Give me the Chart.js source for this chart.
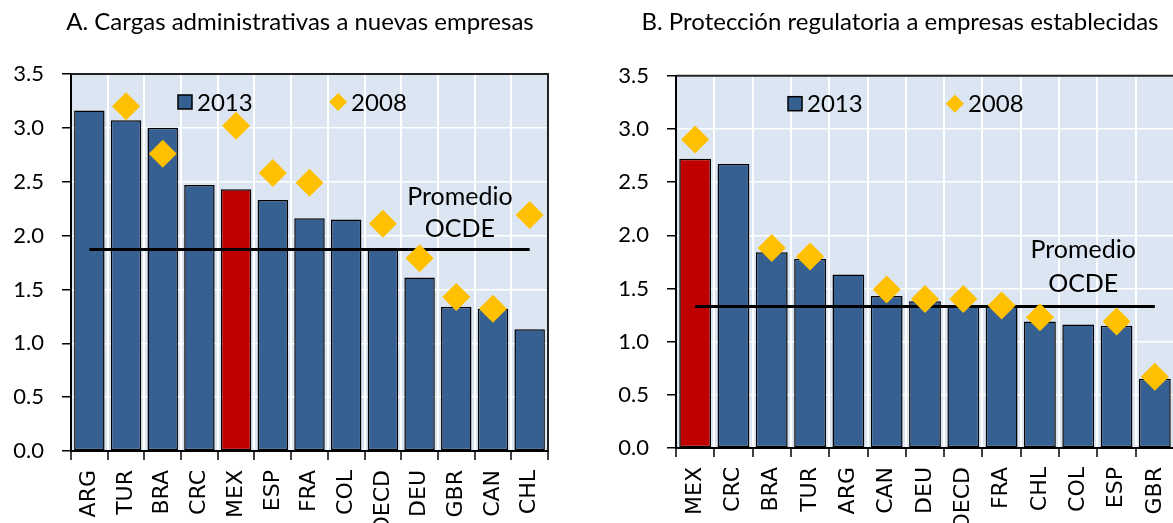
<!doctype html>
<html>
<head>
<meta charset="utf-8">
<script src="https://cdn.jsdelivr.net/npm/chart.js"></script>
<style>
  body { margin: 0; width: 1173px; height: 523px; overflow: hidden; background: #fff; position: relative; }
  .box { position: absolute; top: 0; width: 600px; height: 523px; }
</style>
</head>
<body>
<div class="box" style="left:0"><canvas id="chartA"></canvas></div>
<div class="box" style="left:600px"><canvas id="chartB"></canvas></div>
<script>
// A. Cargas administrativas a nuevas empresas
var catsA = ['ARG', 'TUR', 'BRA', 'CRC', 'MEX', 'ESP', 'FRA', 'COL', 'OECD', 'DEU', 'GBR', 'CAN', 'CHL'];
var y2013A = [3.16, 3.07, 3.00, 2.47, 2.43, 2.33, 2.16, 2.15, 1.87, 1.61, 1.34, 1.32, 1.13];
var y2008A = [null, 3.20, 2.76, null, 3.02, 2.58, 2.49, null, 2.11, 1.79, 1.43, 1.32, 2.19];
var avgA = [1.87, 1.87, 1.87, 1.87, 1.87, 1.87, 1.87, 1.87, 1.87, 1.87, 1.87, 1.87, 1.87];

// B. Protección regulatoria a empresas establecidas
var catsB = ['MEX', 'CRC', 'BRA', 'TUR', 'ARG', 'CAN', 'DEU', 'OECD', 'FRA', 'CHL', 'COL', 'ESP', 'GBR'];
var y2013B = [2.72, 2.67, 1.84, 1.78, 1.63, 1.43, 1.38, 1.33, 1.33, 1.19, 1.16, 1.15, 0.65];
var y2008B = [2.90, null, 1.88, 1.80, null, 1.49, 1.40, 1.40, 1.34, 1.23, null, 1.19, 0.67];
var avgB = [1.33, 1.33, 1.33, 1.33, 1.33, 1.33, 1.33, 1.33, 1.33, 1.33, 1.33, 1.33, 1.33];

var yTicks = ['0.0', '0.5', '1.0', '1.5', '2.0', '2.5', '3.0', '3.5'];

var BLUE = '#376092', RED = '#C00000', GOLD = '#FFC000';
var sans = 'Lato, "Open Sans", sans-serif';

// plot background + top/right frame
var plotFrame = {
  id: 'plotFrame',
  beforeDraw: function (chart) {
    var a = chart.chartArea, c = chart.ctx;
    c.save();
    c.fillStyle = '#DCE6F2';
    c.fillRect(a.left, a.top, a.right - a.left, a.bottom - a.top);
    c.restore();
  },
  afterDraw: function (chart) {
    var a = chart.chartArea, c = chart.ctx;
    c.save();
    c.strokeStyle = '#222';
    c.lineWidth = 2;
    c.beginPath();
    c.moveTo(a.left, a.top);
    c.lineTo(a.right, a.top);
    c.lineTo(a.right, a.bottom);
    c.stroke();
    c.restore();
  }
};

// legend drawn inside the plot area
var innerLegend = {
  id: 'innerLegend',
  afterDraw: function (chart) {
    var a = chart.chartArea, c = chart.ctx, ds = chart.data.datasets;
    var y = a.top + 28;
    c.save();
    c.font = '24px ' + sans;
    c.textBaseline = 'middle';
    var x = a.left + (a.right - a.left) * 0.239;
    c.fillStyle = BLUE;
    c.fillRect(x - 7, y - 7, 14, 14);
    c.strokeStyle = '#000';
    c.lineWidth = 1.5;
    c.strokeRect(x - 7, y - 7, 14, 14);
    c.fillStyle = '#000';
    c.fillText(ds[0].label, x + 12, y + 1);
    x = a.left + (a.right - a.left) * 0.56;
    c.fillStyle = GOLD;
    c.beginPath();
    c.moveTo(x, y - 9); c.lineTo(x + 9, y); c.lineTo(x, y + 9); c.lineTo(x - 9, y);
    c.closePath();
    c.fill();
    c.fillStyle = '#000';
    c.fillText(ds[1].label, x + 13, y + 1);
    c.restore();
  }
};

// "Promedio OCDE" note
var avgNote = {
  id: 'avgNote',
  afterDraw: function (chart, args, opts) {
    var xs = chart.scales.x, ys = chart.scales.y, c = chart.ctx;
    var x = xs.getPixelForValue(opts.at);
    c.save();
    c.font = '25px ' + sans;
    c.fillStyle = '#000';
    c.textAlign = 'center';
    c.textBaseline = 'middle';
    c.fillText('Promedio', x, ys.getPixelForValue(opts.y1));
    c.fillText('OCDE', x, ys.getPixelForValue(opts.y2));
    c.restore();
  }
};

function makeChart(id, title, cats, v2013, v2008, avg, p) {
  return new Chart(document.getElementById(id), {
    type: 'bar',
    data: {
      labels: cats,
      datasets: [{
        type: 'bar',
        label: '2013',
        data: v2013,
        backgroundColor: cats.map(function (c) { return c === 'MEX' ? RED : BLUE; }),
        borderColor: '#000',
        borderWidth: 1.5,
        borderSkipped: false,
        categoryPercentage: 1,
        barPercentage: 0.83,
        order: 3
      }, {
        type: 'line',
        label: '2008',
        data: v2008,
        showLine: false,
        pointStyle: 'rectRot',
        pointRadius: 14,
        pointBackgroundColor: GOLD,
        pointBorderWidth: 0,
        order: 1
      }, {
        type: 'line',
        label: 'Promedio OCDE',
        data: avg,
        borderColor: '#000',
        borderWidth: 3,
        pointRadius: 0,
        order: 2
      }]
    },
    options: {
      responsive: true,
      maintainAspectRatio: false,
      animation: false,
      layout: { padding: 0 },
      plugins: {
        legend: { display: false },
        tooltip: { enabled: false },
        title: {
          display: true,
          text: title,
          color: '#000',
          font: { family: sans, size: 24, weight: 'normal' },
          padding: { top: 7.6, bottom: p.titleBottom }
        },
        avgNote: p.note
      },
      scales: {
        x: {
          grid: { color: '#fff', lineWidth: 2, tickColor: '#000', tickWidth: 1.5, tickLength: 9, offset: true },
          border: { color: '#000', width: 2 },
          ticks: {
            color: '#000', minRotation: 90, maxRotation: 90, autoSkip: false, padding: 10,
            font: { family: '"DejaVu Sans", sans-serif', size: 22 }
          },
          afterFit: function (s) { s.height = p.xHeight; }
        },
        y: {
          min: 0, max: 3.5,
          grid: { color: '#fff', lineWidth: 1.5, tickColor: '#000', tickWidth: 1.5, tickLength: 9 },
          border: { color: '#000', width: 2 },
          ticks: {
            stepSize: 0.5, color: '#000', padding: 18,
            font: { family: sans, size: 22 },
            callback: function (v) { return yTicks[Math.round(v * 2)]; }
          },
          afterFit: function (s) { s.width = p.yWidth; }
        },
        // empty right-hand strip so the title stays centred on the panel
        spacer: {
          type: 'linear',
          position: 'right',
          ticks: { display: false },
          grid: { display: false },
          border: { display: false },
          afterFit: function (s) { s.width = p.rightGap; }
        }
      }
    },
    plugins: [plotFrame, innerLegend, avgNote]
  });
}

makeChart('chartA', 'A. Cargas administrativas a nuevas empresas', catsA, y2013A, y2008A, avgA,
  { yWidth: 71, rightGap: 52, xHeight: 72, titleBottom: 37.6, note: { at: 10.1, y1: 2.36, y2: 2.06 } });
makeChart('chartB', 'B. Protección regulatoria a empresas establecidas', catsB, y2013B, y2008B, avgB,
  { yWidth: 76, rightGap: 26, xHeight: 75, titleBottom: 39.3, note: { at: 10.13, y1: 1.86, y2: 1.54 } });
</script>
</body>
</html>
